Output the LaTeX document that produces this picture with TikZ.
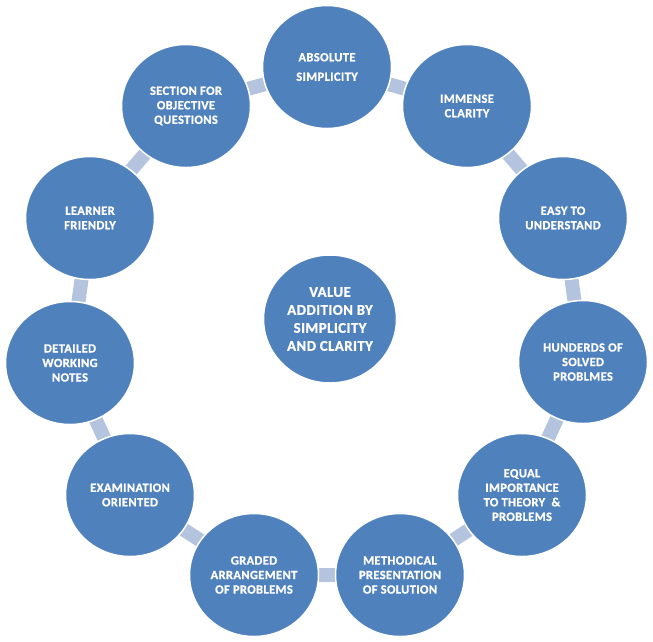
\documentclass[tikz,border=0pt]{standalone}
\usepackage{fontspec}
\setmainfont{Carlito}
\newfontfamily\bubblefont{Carlito-Bold.ttf}[LetterSpace=3, FakeBold=1]
\usetikzlibrary{shapes.geometric,backgrounds}
\definecolor{bubble}{HTML}{4F81BD}
\definecolor{linkblue}{HTML}{B4C4DF}
\begin{document}
\begin{tikzpicture}[x=1pt,y=-1pt,
		bubble/.style={ellipse, fill=bubble, draw=white, line width=1.5pt, minimum width=129pt, minimum height=123pt, inner sep=0pt, text=white, font=\bubblefont\fontsize{12.5}{14.5}\selectfont, align=center},
		hub/.style={bubble, minimum width=133pt, minimum height=128pt, font=\bubblefont\fontsize{14.8}{18}\selectfont},
		link/.style={draw=linkblue, line width=14pt}]
		\useasboundingbox (0,0) rectangle (653,641);
		\node[hub] (v) at (330,319) {VALUE\\ADDITION BY\\SIMPLICITY\\AND CLARITY};
		\node[bubble] (abs) at (327,67) {ABSOLUTE\\[5pt]SIMPLICITY};
		\node[bubble] (imm) at (467,106) {IMMENSE\\CLARITY};
		\node[bubble] (easy) at (563,218) {EASY TO\\UNDERSTAND};
		\node[bubble] (hund) at (583,362) {HUNDERDS OF\\SOLVED\\PROBLMES};
		\node[bubble] (eq) at (522,495) {EQUAL\\IMPORTANCE\\TO THEORY \ \&\\PROBLEMS};
		\node[bubble] (meth) at (400,575) {METHODICAL\\PRESENTATION\\OF SOLUTION};
		\node[bubble] (grad) at (254,575) {GRADED\\ARRANGEMENT\\OF PROBLEMS};
		\node[bubble] (exam) at (130,495) {EXAMINATION\\ORIENTED};
		\node[bubble] (det) at (70,363) {DETAILED\\WORKING\\NOTES};
		\node[bubble] (learn) at (90,218) {LEARNER\\FRIENDLY};
		\node[bubble] (sect) at (186,106) {SECTION FOR\\OBJECTIVE\\QUESTIONS};
		\begin{pgfonlayer}{background}
			\foreach \a/\b in {abs/imm, imm/easy, easy/hund, hund/eq, eq/meth, meth/grad, grad/exam, exam/det, det/learn, learn/sect, sect/abs}
				\draw[link] (\a.center) -- (\b.center);
		\end{pgfonlayer}
	\end{tikzpicture}
\end{document}
